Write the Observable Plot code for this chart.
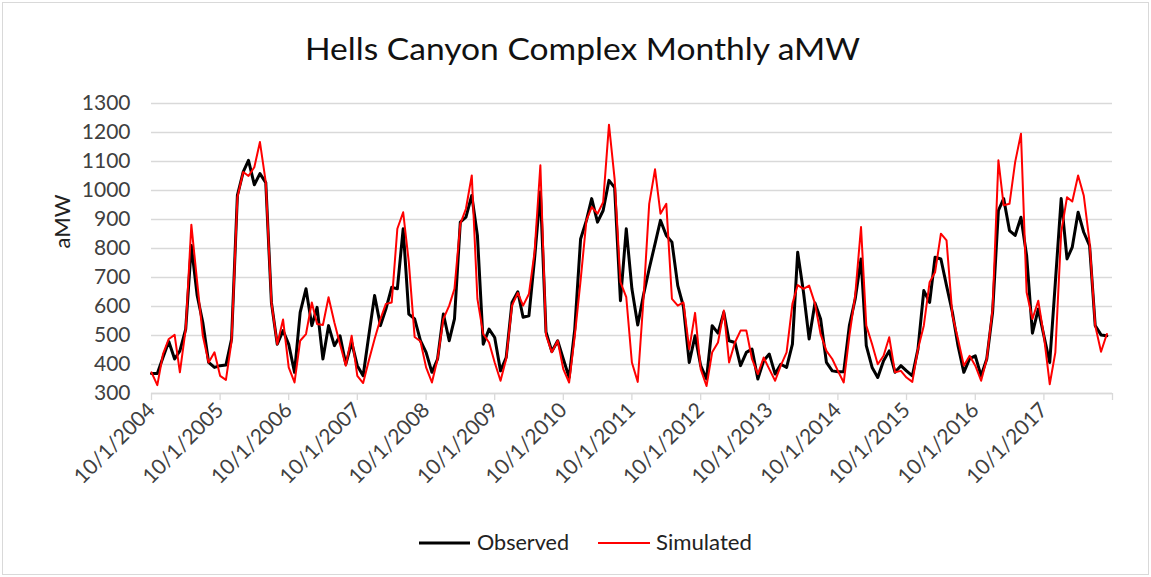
<!DOCTYPE html>
<html>
<head>
<meta charset="utf-8">
<script src="https://cdn.jsdelivr.net/npm/d3@7"></script>
<script src="https://cdn.jsdelivr.net/npm/@observablehq/plot@0.6"></script>
<style>
  body { margin: 0; background: #fff; }
  #wrap { position: relative; width: 1151px; height: 577px; background: #fff; overflow: hidden; font-family: Lato, sans-serif; }
  #border { position: absolute; left: 2px; top: 2px; width: 1145px; height: 571px; border: 1px solid #d9d9d9; }
  #chart { position: absolute; left: 0; top: 0; }
  #overlay { position: absolute; left: 0; top: 0; }
</style>
</head>
<body>
<div id="wrap">
  <div id="border"></div>
  <div id="chart"></div>
  <svg id="overlay" width="1151" height="577"></svg>
</div>
<script>
// ---- data (monthly, starting 10/1/2004) ----
const title = "Hells Canyon Complex Monthly aMW";
const yLabel = "aMW";
const seriesNames = ["Observed", "Simulated"];
const startYear = 2004;          // first month: October 2004
const tickYears = d3.range(2004, 2019);
const yTicks = [300, 400, 500, 600, 700, 800, 900, 1000, 1100, 1200, 1300];

const observed = [
  369, 369, 424, 479, 419, 447, 522, 810, 638, 545, 407, 390,
  396, 398, 488, 983, 1064, 1104, 1020, 1058, 1027, 614, 470, 517,
  470, 373, 580, 661, 534, 597, 419, 534, 465, 499, 401, 476,
  396, 361, 499, 638, 534, 591, 666, 661, 868, 574, 557, 482,
  442, 373, 419, 574, 482, 557, 891, 908, 983, 845, 470, 522,
  493, 378, 424, 614, 651, 563, 568, 764, 995, 512, 445, 482,
  419, 355, 522, 833, 897, 972, 891, 931, 1035, 1010, 620, 868,
  661, 536, 638, 730, 816, 897, 845, 822, 672, 600, 407, 499,
  396, 350, 534, 508, 580, 482, 476, 396, 442, 453, 350, 413,
  436, 367, 401, 390, 470, 787, 649, 488, 612, 557, 407, 378,
  375, 375, 534, 626, 764, 465, 390, 355, 413, 447, 373, 396,
  378, 361, 453, 655, 614, 770, 764, 672, 580, 465, 373, 420,
  430, 361, 419, 580, 931, 972, 862, 845, 908, 776, 508, 591,
  499, 407, 684, 972, 764, 805, 925, 856, 810, 534, 502, 499
];

const simulated = [
  373, 329, 436, 488, 502, 373, 522, 882, 684, 499, 407, 442,
  361, 347, 480, 977, 1064, 1050, 1080, 1167, 1029, 614, 470, 555,
  390, 338, 482, 505, 614, 540, 536, 632, 545, 470, 396, 499,
  361, 336, 413, 488, 557, 609, 614, 868, 925, 753, 495, 480,
  390, 338, 419, 557, 603, 661, 885, 937, 1052, 626, 505, 476,
  407, 344, 419, 603, 647, 603, 643, 787, 1087, 502, 442, 482,
  384, 338, 499, 690, 897, 943, 920, 960, 1227, 1040, 684, 632,
  407, 340, 620, 954, 1073, 920, 954, 626, 603, 614, 453, 578,
  384, 326, 442, 476, 586, 407, 476, 517, 517, 419, 367, 424,
  384, 344, 396, 442, 609, 674, 661, 672, 610, 505, 447, 419,
  378, 338, 499, 638, 874, 534, 470, 401, 430, 494, 373, 378,
  355, 340, 453, 534, 684, 718, 851, 828, 571, 488, 396, 430,
  396, 344, 419, 591, 1104, 949, 954, 1098, 1196, 649, 557, 620,
  499, 332, 442, 856, 977, 962, 1052, 983, 822, 534, 444, 505
];

// ---- build table ----
const rows = observed.map((v, i) => ({
  date: new Date(Date.UTC(startYear, 9 + i, 1)),
  obs: v,
  sim: simulated[i]
}));
const tickDates = tickYears.map(y => new Date(Date.UTC(y, 9, 1)));
const lastTickYear = tickYears[tickYears.length - 1];

const chart = Plot.plot({
  width: 1151,
  height: 577,
  marginLeft: 151,
  marginRight: 39,
  marginTop: 103,
  marginBottom: 184,
  style: { fontFamily: "Lato, sans-serif", fontSize: "21px", background: "transparent" },
  x: { type: "utc", domain: [tickDates[0], tickDates[tickDates.length - 1]] },
  y: { domain: [300, 1300] },
  marks: [
    Plot.gridY(yTicks, { stroke: "#d9d9d9", strokeOpacity: 1, strokeWidth: 1.3 }),
    Plot.axisY(yTicks, { tickSize: 0, tickPadding: 21, fill: "#404040", label: null, fontSize: 21, tickFormat: d => String(d) }),
    Plot.axisX(tickDates, {
      tickSize: 7, stroke: "#d9d9d9", strokeOpacity: 1, strokeWidth: 1.3,
      tickRotate: -45, tickPadding: 6, fill: "#404040", fontSize: 21, label: null,
      tickFormat: d => d.getUTCFullYear() < lastTickYear ? `10/1/${d.getUTCFullYear()}` : ""
    }),
    Plot.ruleY([300], { stroke: "#d9d9d9", strokeWidth: 1.3 }),
    Plot.line(rows, { x: "date", y: "obs", stroke: "#000000", strokeWidth: 3, strokeLinejoin: "round", strokeLinecap: "round" }),
    Plot.line(rows, { x: "date", y: "sim", stroke: "#ff0000", strokeWidth: 2, strokeLinejoin: "round", strokeLinecap: "round" }),
    Plot.text([yLabel], { text: d => d, frameAnchor: "left", dx: -89, rotate: -90, fontSize: 22, fill: "#222" })
  ]
});
document.getElementById("chart").appendChild(chart);

// ---- title and legend overlay ----
const ov = d3.select("#overlay");
ov.append("text")
  .attr("x", 305).attr("y", 60)
  .attr("textLength", 555).attr("lengthAdjust", "spacingAndGlyphs")
  .attr("font-family", "Lato, sans-serif").attr("font-size", 31)
  .attr("fill", "#111")
  .text(title);

const legendItems = [
  { name: seriesNames[0], color: "#000000", width: 3, x0: 419, x1: 470, tx: 477, tl: 92 },
  { name: seriesNames[1], color: "#ff0000", width: 2, x0: 598, x1: 650, tx: 656, tl: 96 }
];
const lg = ov.append("g");
lg.selectAll("line").data(legendItems).join("line")
  .attr("x1", d => d.x0).attr("x2", d => d.x1)
  .attr("y1", 543).attr("y2", 543)
  .attr("stroke", d => d.color).attr("stroke-width", d => d.width);
lg.selectAll("text").data(legendItems).join("text")
  .attr("x", d => d.tx).attr("y", 550)
  .attr("textLength", d => d.tl).attr("lengthAdjust", "spacingAndGlyphs")
  .attr("font-family", "Lato, sans-serif").attr("font-size", 22)
  .attr("fill", "#222")
  .text(d => d.name);
</script>
</body>
</html>
